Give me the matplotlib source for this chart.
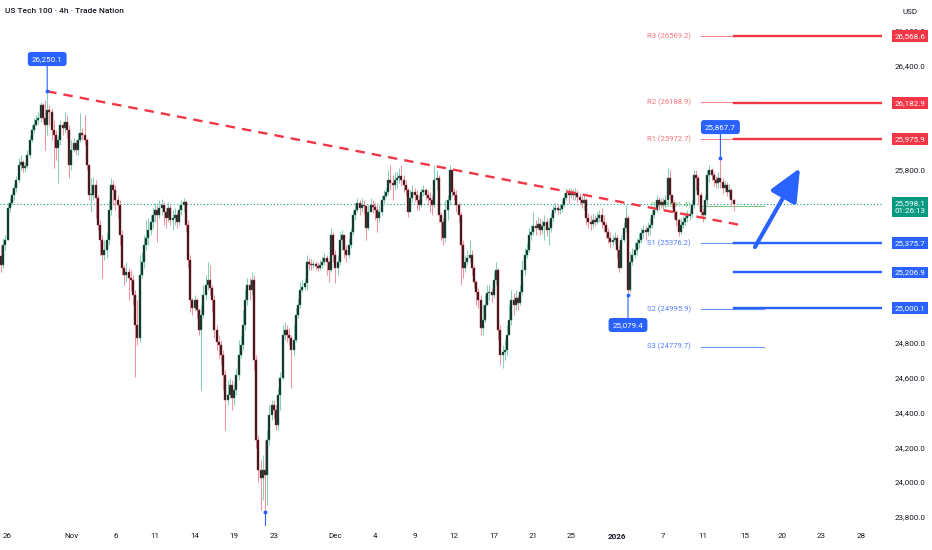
import matplotlib
matplotlib.use("Agg")
import matplotlib.pyplot as plt
from matplotlib.patches import FancyArrowPatch

plt.rcParams['font.family'] = ['Roboto', 'DejaVu Sans']

# 4h candles, US Tech 100 (open = previous close)
firstOpen = 25300
closes = [25250, 25365, 25394, 25578, 25607, 25653, 25693, 25739, 25826, 25843,
          25808, 25820, 25883, 25970, 26027, 26056, 26085, 26096, 26171, 26096,
          26056, 26142, 26131, 26027, 25998, 25924, 25970, 26056, 26039, 26073,
          26027, 25826, 25912, 25952, 25912, 25970, 26010, 25998, 25970, 25826,
          25653, 25653, 25710, 25636, 25480, 25394, 25307, 25336, 25394, 25566,
          25710, 25682, 25624, 25595, 25422, 25232, 25192, 25209, 25175, 25163,
          25077, 24904, 24829, 25192, 25267, 25365, 25405, 25451, 25497, 25538,
          25566, 25538, 25578, 25595, 25555, 25520, 25578, 25509, 25520, 25538,
          25497, 25566, 25595, 25613, 25480, 25278, 25048, 25002, 25048, 24990,
          24875, 24962, 25077, 25134, 25163, 25117, 25048, 24875, 24806, 24789,
          24731, 24616, 24472, 24501, 24558, 24484, 24530, 24616, 24731, 24789,
          24904, 25048, 25134, 25106, 25163, 24702, 24242, 24069, 24023, 24069,
          24040, 24242, 24386, 24443, 24414, 24328, 24501, 24599, 24846, 24875,
          24846, 24829, 24760, 24818, 24962, 25019, 25106, 25123, 25146, 25267,
          25255, 25250, 25255, 25244, 25232, 25250, 25267, 25290, 25267, 25221,
          25422, 25307, 25232, 25267, 25394, 25422, 25336, 25307, 25365, 25440,
          25538, 25566, 25607, 25578, 25595, 25589, 25463, 25555, 25595, 25584,
          25566, 25520, 25555, 25624, 25647, 25670, 25739, 25722, 25710, 25739,
          25751, 25762, 25739, 25710, 25682, 25555, 25636, 25670, 25653, 25624,
          25595, 25670, 25682, 25653, 25636, 25624, 25595, 25739, 25751, 25538,
          25497, 25405, 25566, 25624, 25797, 25670, 25653, 25595, 25538, 25365,
          25232, 25267, 25290, 25307, 25232, 25152, 25094, 25048, 24887, 24933,
          25019, 25088, 25094, 25077, 25163, 25221, 24875, 24731, 24748, 24760,
          24846, 24933, 25048, 25019, 25060, 25031, 25094, 25221, 25307, 25336,
          25422, 25440, 25474, 25463, 25486, 25451, 25474, 25497, 25451, 25463,
          25520, 25566, 25578, 25566, 25572, 25595, 25636, 25664, 25653, 25670,
          25653, 25664, 25641, 25624, 25607, 25624, 25520, 25497, 25486, 25509,
          25497, 25520, 25538, 25497, 25480, 25440, 25405, 25382, 25394, 25405,
          25336, 25232, 25394, 25463, 25520, 25106, 25267, 25307, 25336, 25376,
          25394, 25434, 25451, 25440, 25463, 25480, 25538, 25566, 25624, 25595,
          25613, 25595, 25624, 25751, 25653, 25607, 25555, 25509, 25440, 25480,
          25497, 25520, 25532, 25543, 25595, 25768, 25751, 25653, 25555, 25538,
          25624, 25768, 25797, 25768, 25739, 25722, 25751, 25728, 25693, 25710,
          25670, 25682, 25624, 25598.1]
highs = [25365, 25405, 25422, 25607, 25636, 25682, 25722, 25762, 25866, 25883,
         25854, 25843, 25912, 25998, 26056, 26096, 26114, 26131, 26188, 26183,
         26200, 26250.1, 26171, 26154, 26085, 26027, 25998, 26085, 26073, 26131,
         26114, 26056, 25970, 25981, 25970, 26010, 26125, 26039, 26114, 25981,
         25826, 25751, 25757, 25739, 25653, 25509, 25422, 25394, 25434, 25624,
         25751, 25739, 25710, 25653, 25624, 25451, 25250, 25267, 25232, 25221,
         25192, 25106, 25048, 25307, 25324, 25422, 25509, 25520, 25538, 25578,
         25607, 25595, 25624, 25630, 25613, 25578, 25613, 25595, 25566, 25578,
         25555, 25595, 25624, 25636, 25624, 25509, 25307, 25060, 25077, 25060,
         25002, 25019, 25134, 25192, 25267, 25250, 25134, 25077, 24904, 24846,
         24818, 24760, 24645, 24587, 24599, 24587, 24576, 24656, 24818, 24846,
         24990, 25106, 25175, 25175, 25209, 25192, 24731, 24270, 24126, 24155,
         24242, 24299, 24443, 24472, 24472, 24443, 24541, 24633, 24904, 24921,
         24904, 24887, 24846, 24904, 25002, 25060, 25152, 25163, 25175, 25307,
         25290, 25284, 25278, 25273, 25267, 25278, 25301, 25319, 25307, 25278,
         25463, 25440, 25336, 25307, 25440, 25451, 25422, 25365, 25405, 25463,
         25566, 25607, 25636, 25624, 25636, 25624, 25595, 25595, 25636, 25624,
         25607, 25595, 25595, 25653, 25682, 25693, 25797, 25826, 25768, 25785,
         25785, 25808, 25826, 25768, 25739, 25693, 25682, 25710, 25693, 25682,
         25653, 25693, 25710, 25693, 25682, 25670, 25653, 25826, 25797, 25768,
         25555, 25520, 25624, 25653, 25826, 25768, 25693, 25682, 25613, 25555,
         25394, 25307, 25336, 25394, 25336, 25250, 25163, 25117, 25077, 25019,
         25077, 25134, 25134, 25117, 25209, 25267, 25232, 24904, 24789, 24818,
         24904, 25019, 25106, 25088, 25106, 25077, 25134, 25278, 25348, 25376,
         25463, 25480, 25555, 25509, 25526, 25520, 25509, 25538, 25520, 25509,
         25549, 25595, 25607, 25601, 25601, 25624, 25664, 25693, 25693, 25693,
         25687, 25693, 25682, 25664, 25647, 25653, 25636, 25549, 25538, 25549,
         25538, 25555, 25566, 25578, 25538, 25497, 25463, 25440, 25422, 25440,
         25422, 25365, 25422, 25497, 25595, 25538, 25324, 25348, 25382, 25405,
         25434, 25463, 25480, 25474, 25497, 25520, 25566, 25595, 25653, 25641,
         25636, 25636, 25653, 25808, 25797, 25653, 25624, 25566, 25520, 25520,
         25532, 25555, 25566, 25578, 25624, 25797, 25797, 25768, 25670, 25578,
         25653, 25797, 25826, 25808, 25785, 25762, 25785, 25867.7, 25751, 25739,
         25728, 25716, 25693, 25630]
lows = [25210, 25232, 25336, 25538, 25555, 25595, 25624, 25670, 25728, 25797,
        25785, 25785, 25808, 25866, 25958, 26010, 26050, 26062, 26073, 26073,
        25912, 25998, 26056, 25970, 25808, 25854, 25722, 25941, 25998, 26016,
        25981, 25751, 25797, 25901, 25883, 25883, 25958, 25970, 25941, 25797,
        25624, 25555, 25624, 25520, 25451, 25307, 25175, 25278, 25290, 25365,
        25538, 25595, 25566, 25520, 25365, 25192, 25134, 25152, 25048, 25106,
        25019, 24604, 24789, 24806, 25175, 25232, 25336, 25365, 25422, 25463,
        25497, 25382, 25520, 25538, 25480, 25463, 25497, 25480, 25451, 25480,
        25463, 25480, 25538, 25555, 25440, 25232, 24979, 24962, 24990, 24944,
        24846, 24530, 24944, 25048, 25106, 25077, 24979, 24829, 24760, 24714,
        24674, 24530, 24299, 24443, 24484, 24414, 24443, 24501, 24587, 24714,
        24760, 24875, 25019, 25048, 25077, 24645, 24196, 24000, 23838, 23896,
        23825, 23867, 24213, 24357, 24368, 24299, 24299, 24414, 24587, 24818,
        24806, 24789, 24541, 24731, 24806, 24944, 25002, 25094, 25106, 25106,
        25221, 25221, 25232, 25221, 25215, 25221, 25232, 25250, 25192, 25152,
        25209, 25267, 25146, 25192, 25250, 25336, 25290, 25267, 25290, 25348,
        25422, 25509, 25555, 25538, 25555, 25543, 25394, 25451, 25555, 25549,
        25509, 25440, 25497, 25538, 25595, 25636, 25653, 25682, 25624, 25682,
        25693, 25722, 25705, 25670, 25647, 25526, 25555, 25613, 25613, 25566,
        25566, 25584, 25647, 25624, 25595, 25555, 25538, 25578, 25682, 25497,
        25394, 25365, 25382, 25509, 25595, 25647, 25624, 25555, 25497, 25134,
        25175, 25209, 25250, 25267, 25192, 25117, 25019, 25002, 24846, 24846,
        24921, 25048, 25048, 25036, 25060, 25134, 24818, 24674, 24656, 24702,
        24731, 24875, 24904, 24962, 24990, 24990, 25019, 25077, 25192, 25290,
        25324, 25394, 25422, 25422, 25451, 25422, 25428, 25394, 25417, 25365,
        25440, 25497, 25549, 25543, 25543, 25555, 25584, 25624, 25607, 25636,
        25624, 25624, 25613, 25595, 25578, 25566, 25480, 25463, 25451, 25463,
        25474, 25486, 25497, 25463, 25440, 25405, 25376, 25348, 25359, 25371,
        25290, 25209, 25232, 25382, 25440, 25079.4, 25094, 25250, 25290, 25307,
        25348, 25376, 25405, 25394, 25417, 25422, 25463, 25520, 25555, 25566,
        25578, 25566, 25578, 25595, 25624, 25578, 25520, 25474, 25417, 25428,
        25463, 25480, 25497, 25509, 25520, 25578, 25682, 25595, 25520, 25497,
        25520, 25595, 25728, 25739, 25705, 25693, 25693, 25693, 25664, 25670,
        25647, 25641, 25595, 25561]

# time axis labels and the bar they sit on
tickLabels = ['26', 'Nov', '6', '11', '14', '19', '23', 'Dec', '4', '9', '12',
              '17', '21', '25', '2026', '7', '11', '15', '20', '23', '28']
tickBars = [3, 32, 52, 70, 88, 106, 124, 152, 170, 188, 206,
            224, 242, 259, 280, 301, 319, 338, 355, 373, 391]

# pivot points indicator
pivotNames = ['R3', 'R2', 'R1', 'P', 'S1', 'S2', 'S3']
pivotValues = [26569.2, 26188.9, 25972.7, 25591.4, 25376.2, 24995.9, 24779.7]

# drawn horizontal levels
levelValues = [26568.6, 26182.9, 25975.9, 25375.7, 25206.9, 25000.1]

# trend line (bar, price)
trendBars = [21, 336]
trendPrices = [26250.1, 25480]

# projected move arrow
arrowBars = [342.7, 363.2]
arrowPrices = [25353, 25808]

lastPrice = 25598.1
countdown = '01:26:13'

RED = '#f23645'
BLUE = '#2962ff'
GREEN = '#089981'
TXT = '#131722'

fig = plt.figure(figsize=(9.32, 5.5), dpi=100)
ax = fig.add_axes([0, 24 / 550, 882 / 932, 526 / 550])
ax.set_xlim(-0.45, 400.45)
ax.set_ylim(23746, 26776)
for s in ax.spines.values():
    s.set_visible(False)

# candles - dark bodies, light wicks
opens = [firstOpen] + closes[:-1]
for i in range(len(closes)):
    o, c = opens[i], closes[i]
    up = c >= o
    hi = max(highs[i], o, c)
    lo = min(lows[i], o, c)
    ax.vlines(i, lo, hi, color='#86d0b6' if up else '#f2939f', lw=0.75, zorder=2)
    ax.bar(i, max(abs(c - o), 6), bottom=min(o, c), width=0.85,
           color='#141a18' if up else '#1c1214',
           edgecolor='#2f8f77' if up else '#b83a48', linewidth=0.35, zorder=2.1)

# last price dotted line
ax.axhline(lastPrice, color=GREEN, lw=0.8, ls=(0, (1, 2)), zorder=1)

# trend line
ax.plot(trendBars, trendPrices, color=RED, lw=1.7, ls=(0, (4, 3)), zorder=3)

# pivots
for name, val in zip(pivotNames, pivotValues):
    if name.startswith('R'):
        col = '#f7525f'
    elif name.startswith('S'):
        col = BLUE
    else:
        col = '#4caf50'
    ax.plot([318, 347], [val, val], color=col, lw=0.8, alpha=0.7, zorder=1.5)
    ax.text(313.5, val, f'{name} ({val})', color=col, alpha=0.8, fontsize=5.5,
            ha='right', va='center', zorder=1.5)

# horizontal levels with price tags
for val in levelValues:
    col = RED if val > lastPrice else BLUE
    ax.plot([333, 400.45], [val, val], color=col, lw=1.7, zorder=1.6)
    ax.text(1.0317, val, f'{val:,.1f}', transform=ax.get_yaxis_transform(),
            ha='center', va='center', color='white', fontsize=5.8, clip_on=False,
            bbox=dict(boxstyle='square,pad=0.35', fc=col, ec='none'), zorder=5)

# last price tag with bar countdown under it
ax.text(1.0317, lastPrice + 25, f'{lastPrice:,.1f}\n{countdown}',
        transform=ax.get_yaxis_transform(), ha='center', va='top',
        color='white', fontsize=5.8, linespacing=1.45, clip_on=False,
        bbox=dict(boxstyle='square,pad=0.35', fc=GREEN, ec='none'), zorder=5)

# arrow
arr = FancyArrowPatch((arrowBars[0], arrowPrices[0]), (arrowBars[1], arrowPrices[1]),
                      arrowstyle='-|>,head_length=2.0,head_width=0.9', mutation_scale=10,
                      color=BLUE, lw=3.0, shrinkA=0, shrinkB=0, zorder=4)
ax.add_patch(arr)

# price notes
def note(bar, price, textPrice):
    ax.annotate(f'{price:,.1f}', xy=(bar, price), xytext=(bar, textPrice),
                ha='center', va='center', color='white', fontsize=5.8,
                bbox=dict(boxstyle='round,pad=0.5,rounding_size=0.4', fc=BLUE, ec='none'),
                arrowprops=dict(arrowstyle='-', color=BLUE, lw=0.8, shrinkA=0, shrinkB=0),
                zorder=4)
    ax.plot(bar, price, 'o', ms=1.8, color=BLUE, zorder=4)

note(21, highs[21], 26436)
note(327, highs[327], 26044)
note(285, lows[285], 24904)

# low of the range, its note sits below the visible area
ax.vlines(120, 23746, lows[120], color=BLUE, lw=0.8, zorder=4)
ax.plot(120, lows[120], 'o', ms=1.8, color=BLUE, zorder=4)

# price scale, labels sitting right under a price tag are hidden by it
tagged = levelValues + [lastPrice]
yTicks = list(range(23800, 26601, 200))
yLabels = []
for v in yTicks:
    if any(abs(v - t) < 20 for t in tagged):
        yLabels.append('')
    else:
        yLabels.append(f'{v:,.1f}')
ax.yaxis.tick_right()
ax.set_yticks(yTicks)
ax.set_yticklabels(yLabels)
ax.tick_params(axis='y', length=0, pad=20, labelsize=5.8, labelcolor=TXT)
for lbl in ax.get_yticklabels():
    lbl.set_ha('center')

ax.set_xticks(tickBars)
ax.set_xticklabels(tickLabels)
ax.tick_params(axis='x', length=0, pad=5, labelsize=5.8, labelcolor=TXT)
for lbl in ax.get_xticklabels():
    if lbl.get_text() == '2026':
        lbl.set_fontweight('bold')

ax.text(0.006, 0.979, 'US Tech 100 · 4h · Trade Nation', transform=ax.transAxes,
        ha='left', va='center', fontsize=6, color=TXT, fontweight='medium', zorder=5)
fig.text(910 / 932, 1 - 12 / 550, 'USD', ha='center', va='center', fontsize=5.8, color=TXT)

fig.savefig('out.png', dpi=100)
